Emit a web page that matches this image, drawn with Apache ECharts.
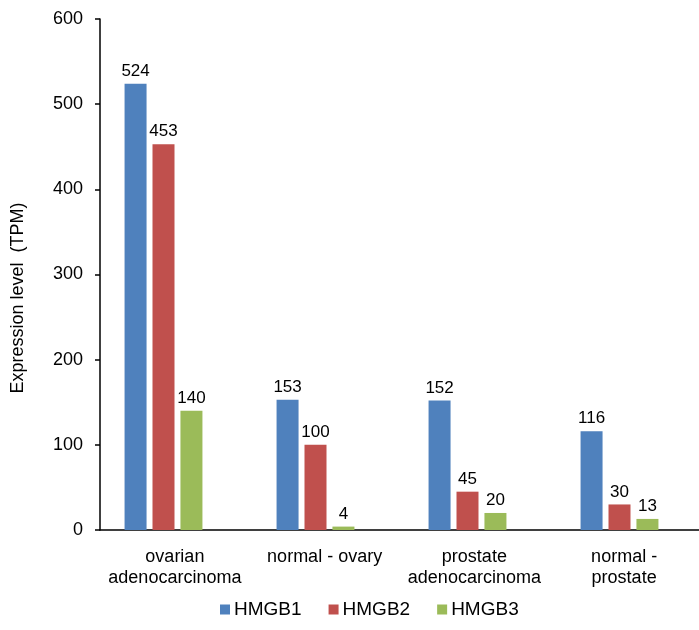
<!DOCTYPE html>
<html>
<head>
<meta charset="utf-8">
<script src="https://cdn.jsdelivr.net/npm/echarts@6/dist/echarts.min.js"></script>
<style>
  html, body { margin: 0; padding: 0; background: #fff; }
  #chart { width: 699px; height: 630px; }
</style>
</head>
<body>
<div id="chart"></div>
<script>
// Tissue categories and expression values (TPM) per gene
const categories = ['ovarian\nadenocarcinoma', 'normal - ovary', 'prostate\nadenocarcinoma', 'normal -\nprostate'];
const hmgb1 = [524, 153, 152, 116];
const hmgb2 = [453, 100, 45, 30];
const hmgb3 = [140, 4, 20, 13];
const seriesNames = ['HMGB1', 'HMGB2', 'HMGB3'];
const colors = ['#4F81BD', '#C0504D', '#9BBB59'];
const yTicks = { min: 0, max: 600, interval: 100 };

const font = 'Liberation Sans, Arial, sans-serif';
const chart = echarts.init(document.getElementById('chart'));

function barSeries(name, data, color) {
  return {
    name: name,
    type: 'bar',
    xAxisIndex: 0,
    yAxisIndex: 0,
    data: data,
    barWidth: 22,
    barGap: '27%',
    itemStyle: { color: color },
    label: {
      show: true,
      position: 'top',
      distance: 4,
      color: '#000',
      fontFamily: font,
      fontSize: 17
    }
  };
}

chart.setOption({
  animation: false,
  color: colors,
  // grid 0 holds the bars, grid 1 carries the visible axes
  grid: [
    { left: 87.5, width: 608, top: 19, bottom: 100 },
    { left: 100, width: 604, top: 19, bottom: 100 }
  ],
  legend: {
    left: 215,
    bottom: 6,
    itemWidth: 10,
    itemHeight: 10,
    itemGap: 27,
    icon: 'rect',
    textStyle: { fontFamily: font, fontSize: 19, color: '#000', padding: [0, 0, 0, -1] },
    data: seriesNames
  },
  xAxis: [
    {
      type: 'category',
      gridIndex: 0,
      data: categories,
      show: false
    },
    {
      type: 'category',
      gridIndex: 1,
      data: categories,
      axisLine: { lineStyle: { color: '#000', width: 1.5 } },
      axisTick: { show: false },
      axisLabel: {
        interval: 0,
        margin: 17,
        lineHeight: 21,
        color: '#000',
        fontFamily: font,
        fontSize: 18
      }
    }
  ],
  yAxis: [
    Object.assign({ type: 'value', gridIndex: 0, show: false }, yTicks),
    Object.assign({
      type: 'value',
      gridIndex: 1,
      axisLine: { show: true, lineStyle: { color: '#000', width: 1.5 } },
      axisTick: { show: true, inside: false, length: 5, lineStyle: { color: '#000', width: 1.5 } },
      splitLine: { show: false },
      axisLabel: { margin: 17, color: '#000', fontFamily: font, fontSize: 18 }
    }, yTicks)
  ],
  graphic: [{
    type: 'text',
    x: 18,
    y: 298,
    rotation: Math.PI / 2,
    style: {
      text: 'Expression level  (TPM)',
      fontFamily: font,
      fontSize: 18,
      fill: '#000',
      align: 'center',
      verticalAlign: 'middle'
    }
  }],
  series: [
    barSeries(seriesNames[0], hmgb1, colors[0]),
    barSeries(seriesNames[1], hmgb2, colors[1]),
    barSeries(seriesNames[2], hmgb3, colors[2])
  ]
});
</script>
</body>
</html>
